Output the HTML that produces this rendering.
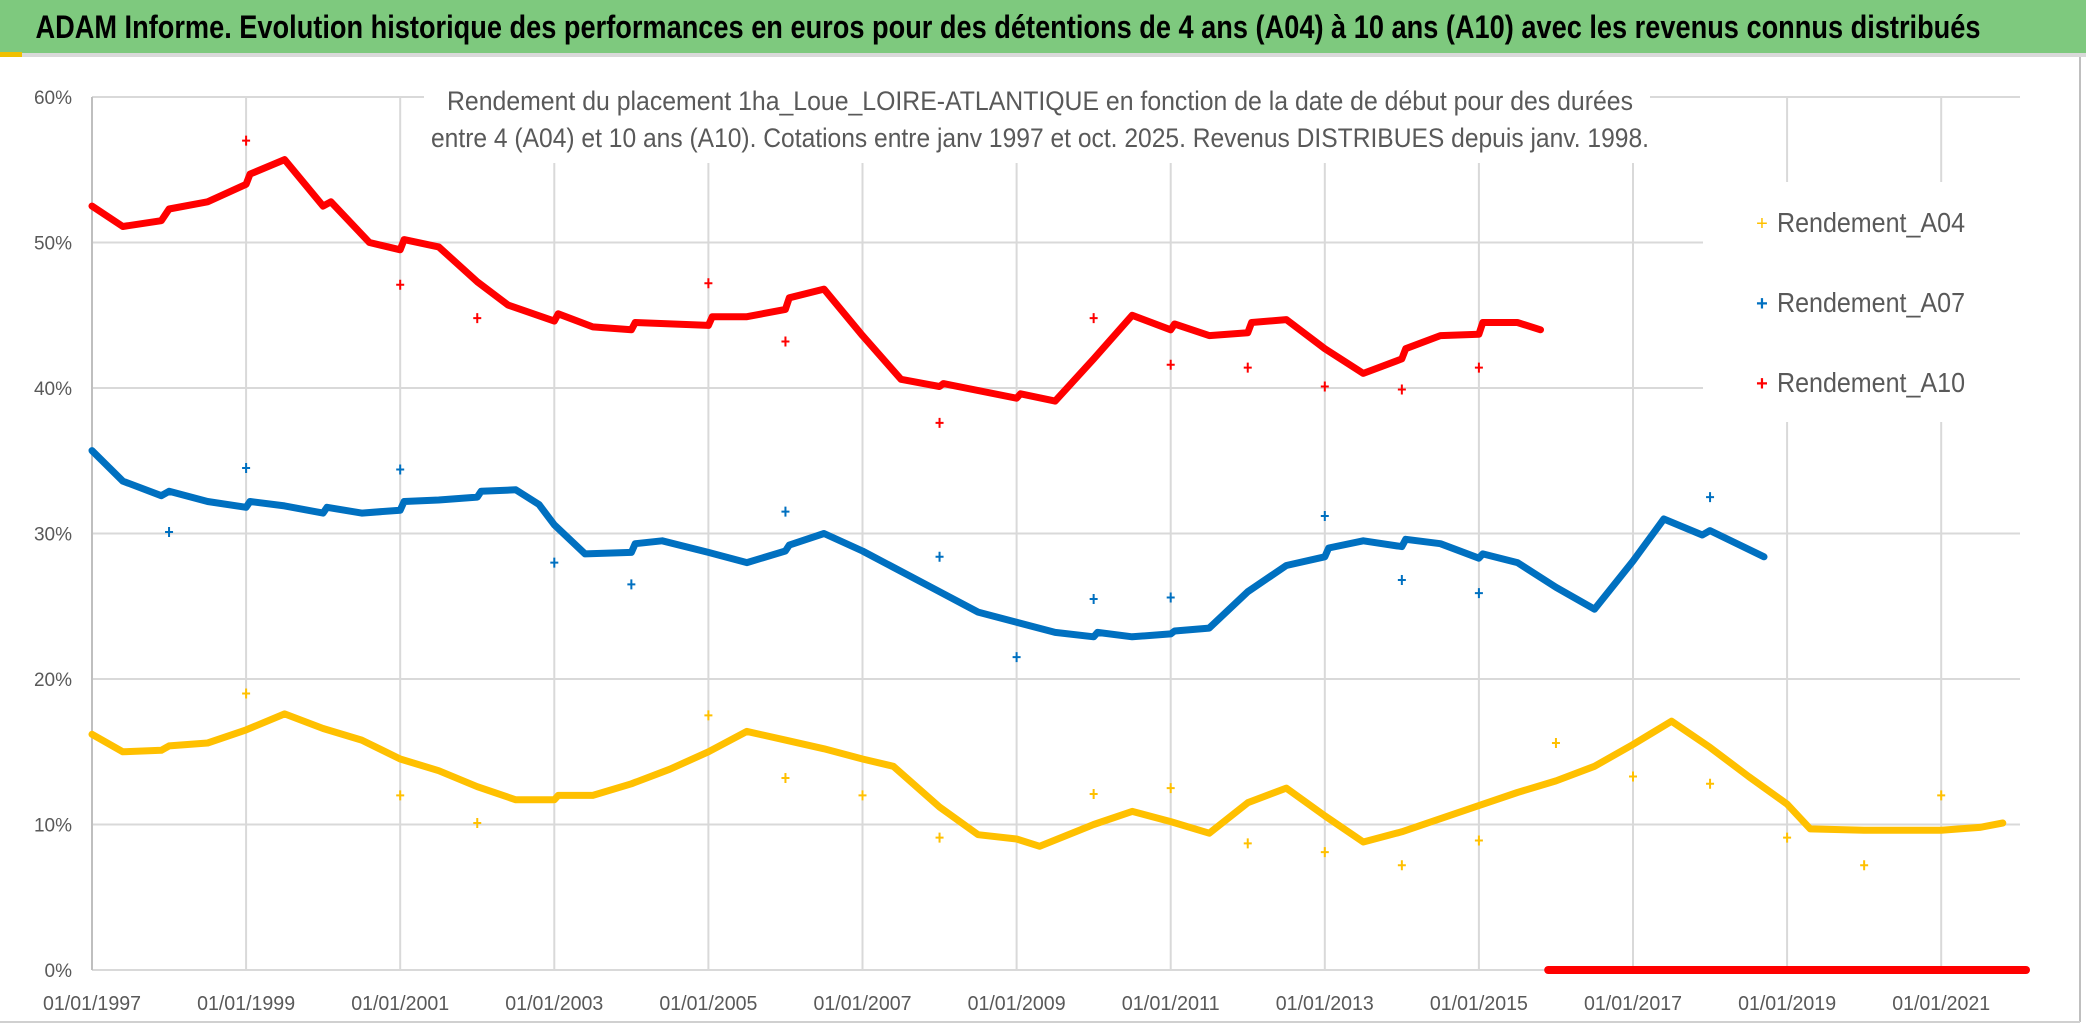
<!DOCTYPE html>
<html><head><meta charset="utf-8"><style>
html,body{margin:0;padding:0;background:#fff;}
svg{display:block;font-family:"Liberation Sans",sans-serif;}
</style></head><body>
<svg id="chart" width="2086" height="1032" viewBox="0 0 2086 1032" xmlns="http://www.w3.org/2000/svg">
<rect x="0" y="0" width="2086" height="1032" fill="#ffffff"/>
<rect x="0" y="0" width="2086" height="53" fill="#7ec97e"/>
<rect x="0" y="53" width="2086" height="4" fill="#d9d9d9"/>
<rect x="0" y="52" width="22" height="5" fill="#f0c000"/>
<text x="1008" y="38" text-anchor="middle" font-size="32" font-weight="bold" fill="#000" textLength="1945" lengthAdjust="spacingAndGlyphs">ADAM Informe. Evolution historique des performances en euros pour des détentions de 4 ans (A04) à 10 ans (A10) avec les revenus connus distribués</text>
<line x1="2080" y1="57" x2="2080" y2="1022" stroke="#bfbfbf" stroke-width="2"/>
<line x1="0" y1="1022" x2="2080" y2="1022" stroke="#d0d0d0" stroke-width="2"/>
<g id="grid"></g>
<rect x="424" y="80" width="1226" height="83" fill="#fff"/>
<text x="1040" y="110" text-anchor="middle" font-size="27" fill="#595959" textLength="1186" lengthAdjust="spacingAndGlyphs">Rendement du placement 1ha_Loue_LOIRE-ATLANTIQUE en fonction de la date de début pour des durées</text>
<text x="1040" y="147" text-anchor="middle" font-size="27" fill="#595959" textLength="1218" lengthAdjust="spacingAndGlyphs">entre 4 (A04) et 10 ans (A10). Cotations entre janv 1997 et oct. 2025. Revenus DISTRIBUES depuis janv. 1998.</text>
<g id="axes"></g>
<g id="series"></g>
<g>
<rect x="1703" y="182" width="317" height="240" fill="#fff"/>
<g><text x="1762" y="230" font-size="20" fill="#ffc000" text-anchor="middle">+</text><text x="1777" y="232" font-size="28" fill="#595959" textLength="188" lengthAdjust="spacingAndGlyphs">Rendement_A04</text></g>
<g><text x="1762" y="310" font-size="20" fill="#0070c0" text-anchor="middle" font-weight="bold">+</text><text x="1777" y="312" font-size="28" fill="#595959" textLength="188" lengthAdjust="spacingAndGlyphs">Rendement_A07</text></g>
<g><text x="1762" y="390" font-size="20" fill="#ff0000" text-anchor="middle" font-weight="bold">+</text><text x="1777" y="392" font-size="28" fill="#595959" textLength="188" lengthAdjust="spacingAndGlyphs">Rendement_A10</text></g>
</g>
</svg>
<script>
const yTicks=[0,10,20,30,40,50,60];
const xTickYears=[1997,1999,2001,2003,2005,2007,2009,2011,2013,2015,2017,2019,2021];
const a10Years=[1997.0,1997.4,1997.9,1998.0,1998.5,1999.0,1999.05,1999.5,2000.0,2000.1,2000.6,2001.0,2001.05,2001.5,2002.0,2002.4,2003.0,2003.05,2003.5,2004.0,2004.05,2005.0,2005.05,2005.5,2006.0,2006.05,2006.5,2007.0,2007.5,2008.0,2008.05,2009.0,2009.05,2009.5,2010.0,2010.5,2011.0,2011.05,2011.5,2012.0,2012.05,2012.5,2013.0,2013.5,2014.0,2014.05,2014.5,2015.0,2015.05,2015.5,2015.8];
const a10Values=[52.5,51.1,51.5,52.3,52.8,54.0,54.7,55.7,52.5,52.8,50.0,49.5,50.2,49.7,47.3,45.7,44.6,45.1,44.2,44.0,44.5,44.3,44.9,44.9,45.4,46.2,46.8,43.6,40.6,40.1,40.3,39.3,39.6,39.1,42.0,45.0,44.0,44.4,43.6,43.8,44.5,44.7,42.7,41.0,42.0,42.7,43.6,43.7,44.5,44.5,44.0];
const a10OutYears=[1999,2001,2002,2005,2006,2008,2010,2011,2012,2013,2014,2015];
const a10OutValues=[57.0,47.1,44.8,47.2,43.2,37.6,44.8,41.6,41.4,40.1,39.9,41.4];
const a10ZeroYears=[2015.9,2022.1];
const a10ZeroValues=[0,0];
const a07Years=[1997.0,1997.4,1997.9,1998.0,1998.5,1999.0,1999.05,1999.5,2000.0,2000.05,2000.5,2001.0,2001.05,2001.5,2002.0,2002.05,2002.5,2002.8,2003.0,2003.4,2004.0,2004.05,2004.4,2005.0,2005.5,2006.0,2006.05,2006.5,2007.0,2008.0,2008.5,2009.0,2009.5,2010.0,2010.05,2010.5,2011.0,2011.05,2011.5,2012.0,2012.5,2013.0,2013.05,2013.5,2014.0,2014.05,2014.5,2015.0,2015.05,2015.5,2016.0,2016.5,2017.0,2017.4,2017.9,2018.0,2018.7];
const a07Values=[35.7,33.6,32.6,32.9,32.2,31.8,32.2,31.9,31.4,31.8,31.4,31.6,32.2,32.3,32.5,32.9,33.0,32.0,30.6,28.6,28.7,29.3,29.5,28.7,28.0,28.8,29.2,30.0,28.8,26.0,24.6,23.9,23.2,22.9,23.2,22.9,23.1,23.3,23.5,26.0,27.8,28.4,29.0,29.5,29.1,29.6,29.3,28.3,28.6,28.0,26.3,24.8,28.1,31.0,29.9,30.2,28.4];
const a07OutYears=[1998,1999,2001,2003,2004,2006,2008,2009,2010,2011,2013,2014,2015,2018];
const a07OutValues=[30.1,34.5,34.4,28.0,26.5,31.5,28.4,21.5,25.5,25.6,31.2,26.8,25.9,32.5];
const a04Years=[1997.0,1997.4,1997.9,1998.0,1998.5,1999.0,1999.5,2000.0,2000.5,2001.0,2001.5,2002.0,2002.5,2003.0,2003.05,2003.5,2004.0,2004.5,2005.0,2005.5,2006.0,2006.5,2007.0,2007.4,2008.0,2008.5,2009.0,2009.3,2010.0,2010.5,2011.0,2011.5,2012.0,2012.5,2013.0,2013.5,2014.0,2015.0,2015.5,2016.0,2016.5,2017.0,2017.5,2018.0,2018.5,2019.0,2019.3,2020.0,2021.0,2021.5,2021.8];
const a04Values=[16.2,15.0,15.1,15.4,15.6,16.5,17.6,16.6,15.8,14.5,13.7,12.6,11.7,11.7,12.0,12.0,12.8,13.8,15.0,16.4,15.8,15.2,14.5,14.0,11.2,9.3,9.0,8.5,10.0,10.9,10.2,9.4,11.5,12.5,10.6,8.8,9.5,11.3,12.2,13.0,14.0,15.5,17.1,15.3,13.3,11.4,9.7,9.6,9.6,9.8,10.1];
const a04OutYears=[1999,2001,2002,2005,2006,2007,2008,2010,2011,2012,2013,2014,2015,2016,2017,2018,2019,2020,2021];
const a04OutValues=[19.0,12.0,10.1,17.5,13.2,12.0,9.1,12.1,12.5,8.7,8.1,7.2,8.9,15.6,13.3,12.8,9.1,7.2,12.0];

const NS="http://www.w3.org/2000/svg";
function xScale(yr){return 92+(yr-1997)*77.05;}
function yScale(v){return 970-v*14.55;}
function mk(tag,attrs,parent){const e=document.createElementNS(NS,tag);for(const k in attrs)e.setAttribute(k,attrs[k]);parent.appendChild(e);return e;}
const grid=document.getElementById('grid');
const axes=document.getElementById('axes');
const series=document.getElementById('series');
yTicks.forEach(v=>{
  const l=mk('line',{x1:92,x2:2020,y1:yScale(v),y2:yScale(v),stroke:'#d9d9d9','stroke-width':2},grid);
  
  
  const t=mk('text',{x:72,y:yScale(v)+7,'text-anchor':'end','font-size':19,fill:'#595959'},axes);
  t.textContent=v+'%';
  
  
});
xTickYears.forEach(yr=>{
  const l=mk('line',{x1:xScale(yr),x2:xScale(yr),y1:97,y2:970,stroke:yr===1997?'#bfbfbf':'#d9d9d9','stroke-width':2},grid);
  
  
  const t=mk('text',{x:xScale(yr),y:1010,'text-anchor':'middle','font-size':20,fill:'#595959',textLength:98,lengthAdjust:'spacingAndGlyphs'},axes);
  t.textContent='01/01/'+yr;
  
  
});
function drawLine(xs,vs,color,name,w){
  const pts=xs.map((x,i)=>xScale(x).toFixed(1)+','+yScale(vs[i]).toFixed(1)).join(' ');
  const p=mk('polyline',{points:pts,fill:'none',stroke:color,'stroke-width':w,'stroke-linejoin':'round','stroke-linecap':'round'},series);
  
  
}
function drawOut(xs,vs,color,name){
  xs.forEach((x,i)=>{
    const cx=xScale(x),cy=yScale(vs[i]);
    const p=mk('path',{d:`M${cx-4} ${cy}H${cx+4}M${cx} ${cy-5}V${cy+5}`,stroke:color,'stroke-width':2},series);
    
    
  });
}
drawLine(a04Years,a04Values,'#ffc000','series-a04',7);
drawOut(a04OutYears,a04OutValues,'#ffc000','a04-outlier');
drawLine(a07Years,a07Values,'#0070c0','series-a07',7);
drawOut(a07OutYears,a07OutValues,'#0070c0','a07-outlier');
drawLine(a10Years,a10Values,'#ff0000','series-a10',7);
drawOut(a10OutYears,a10OutValues,'#ff0000','a10-outlier');
drawLine(a10ZeroYears,a10ZeroValues,'#ff0000','series-a10-zero',8);
</script>
</body></html>
